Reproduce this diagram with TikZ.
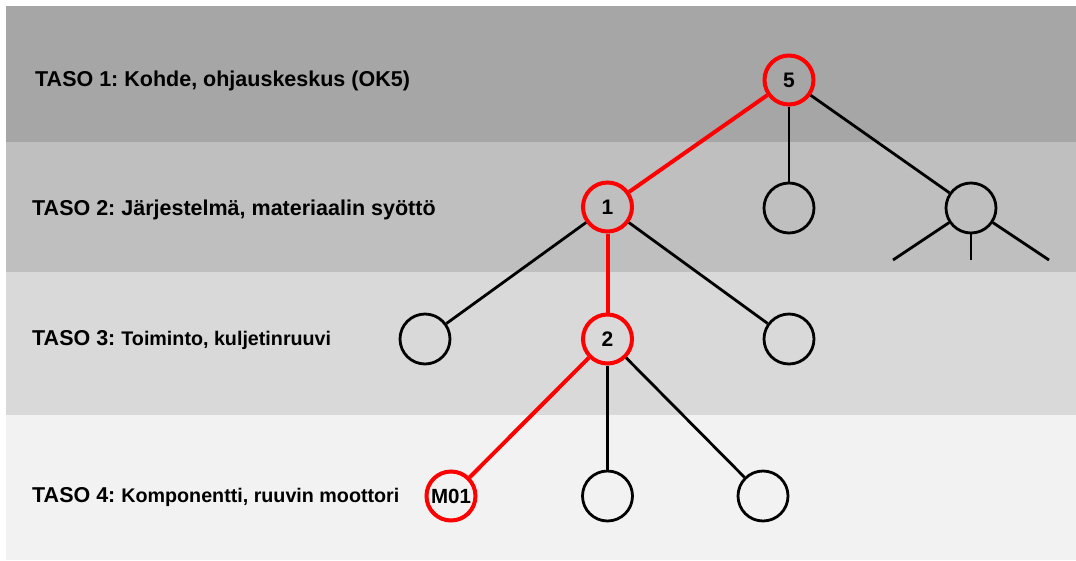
\documentclass[tikz,border=0pt]{standalone}
\usepackage{fontspec}
\setmainfont{Liberation Sans}
\begin{document}
\frenchspacing
\begin{tikzpicture}[x=1pt,y=-1pt,
  lbl/.style={anchor=west,inner sep=0pt,font=\bfseries\fontsize{21.5}{24}\selectfont},
  blk/.style={circle,draw=black,line width=2.8pt,minimum size=50pt,inner sep=0pt},
  red/.style={circle,draw=red,line width=4pt,minimum size=49pt,inner sep=0pt,font=\bfseries\fontsize{21}{23}\selectfont},
  bedge/.style={draw=black,line width=2.8pt},
  redge/.style={draw=red,line width=4pt}]
\useasboundingbox (0,0) rectangle (1076,560);
\fill[white] (0,0) rectangle (1076,560);
\fill[fill={rgb,255:red,166;green,166;blue,166}] (6,6) rectangle (1076,142);
\fill[fill={rgb,255:red,191;green,191;blue,191}] (6,142) rectangle (1076,272);
\fill[fill={rgb,255:red,217;green,217;blue,217}] (6,272) rectangle (1076,415);
\fill[fill={rgb,255:red,242;green,242;blue,242}] (6,415) rectangle (1076,560);

\node[lbl] (t1) at (35,81) {TASO 1: Kohde, ohjauskeskus (OK5)};
\node[lbl] (t2) at (32,210) {TASO 2: Järjestelmä, materiaalin syöttö};
\node[lbl] (t3) at (32,340) {TASO 3: {\fontsize{19.7}{22}\selectfont Toiminto, kuljetinruuvi}};
\node[lbl] (t4) at (32,497) {TASO 4: {\fontsize{19.7}{22}\selectfont Komponentti, ruuvin moottori}};

\node[red] (n5) at (789,80) {5};
\node[red] (n1) at (607.5,207) {1};
\node[blk] (n5b) at (789,208) {};
\node[blk] (n5c) at (971,208) {};
\node[blk] (n1a) at (425,339) {};
\node[red] (n2) at (607.5,339) {2};
\node[blk] (n1c) at (789,339) {};
\node[red,font=\bfseries\fontsize{20.5}{22}\selectfont] (m01) at (451,496) {M01};
\node[blk] (n2b) at (607.5,496) {};
\node[blk] (n2c) at (763,496) {};

\coordinate (s1) at (893,260);
\coordinate (s2) at (971,260);
\coordinate (s3) at (1049,260);

\path[bedge] (n5) -- (n5b);
\path[bedge] (n5) -- (n5c);
\path[bedge] (n1) -- (n1a);
\path[bedge] (n1) -- (n1c);
\path[bedge] (n2) -- (n2b);
\path[bedge] (n2) -- (n2c);
\path[bedge] (n5c) -- (s1);
\path[bedge] (n5c.south) -- (s2);
\path[bedge] (n5c) -- (s3);
\path[redge] (n5) -- (n1);
\path[redge] (n1) -- (n2);
\path[redge] (n2) -- (m01);
\end{tikzpicture}
\end{document}
